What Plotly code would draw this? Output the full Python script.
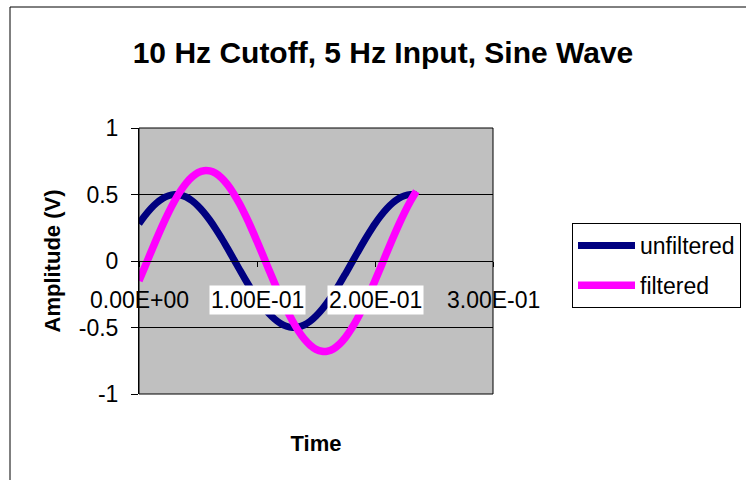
import plotly.graph_objects as go

# Sample times (s) and the two measured signals (V)
time_s = [0.000, 0.005, 0.010, 0.015, 0.020, 0.025, 0.030, 0.035, 0.040, 0.045,
          0.050, 0.055, 0.060, 0.065, 0.070, 0.075, 0.080, 0.085, 0.090, 0.095,
          0.100, 0.105, 0.110, 0.115, 0.120, 0.125, 0.130, 0.135, 0.140, 0.145,
          0.150, 0.155, 0.160, 0.165, 0.170, 0.175, 0.180, 0.185, 0.190, 0.195,
          0.200, 0.205, 0.210, 0.215, 0.220, 0.225, 0.230, 0.235]

unfiltered = [0.280, 0.341, 0.394, 0.437, 0.470, 0.491, 0.500, 0.496, 0.481, 0.453,
              0.414, 0.365, 0.307, 0.242, 0.171, 0.095, 0.017, -0.061, -0.138, -0.211,
              -0.280, -0.341, -0.394, -0.437, -0.470, -0.491, -0.500, -0.496, -0.481, -0.453,
              -0.414, -0.365, -0.307, -0.242, -0.171, -0.095, -0.017, 0.061, 0.138, 0.211,
              0.280, 0.341, 0.394, 0.437, 0.470, 0.491, 0.500, 0.496]

filtered = [-0.148, -0.043, 0.064, 0.169, 0.270, 0.364, 0.449, 0.524, 0.586, 0.632,
            0.664, 0.679, 0.677, 0.659, 0.624, 0.574, 0.510, 0.434, 0.346, 0.251,
            0.148, 0.043, -0.064, -0.169, -0.270, -0.364, -0.449, -0.524, -0.586, -0.632,
            -0.664, -0.679, -0.677, -0.659, -0.624, -0.574, -0.510, -0.434, -0.346, -0.251,
            -0.148, -0.043, 0.064, 0.169, 0.270, 0.364, 0.449, 0.524]

x_tick_vals = [0.0, 0.1, 0.2, 0.3]
x_tick_text = ["0.00E+00", "1.00E-01", "2.00E-01", "3.00E-01"]
x_tick_boxed = [False, True, True, False]
y_tick_vals = [-1, -0.5, 0, 0.5, 1]
y_tick_text = ["-1", "-0.5", "0", "0.5", "1"]

FONT = "Arial, Liberation Sans, sans-serif"

fig = go.Figure()
fig.add_trace(go.Scatter(x=time_s, y=unfiltered, mode="lines", name="unfiltered",
                         legendgroup="u",
                         line=dict(color="#000080", width=7, shape="spline", smoothing=1)))
fig.add_trace(go.Scatter(x=time_s, y=filtered, mode="lines", name="filtered",
                         legendgroup="f",
                         line=dict(color="#FF00FF", width=7.5, shape="spline", smoothing=1)))

W, H = 746, 480
L, R, T, B = 139, 253, 128, 86
pw, ph = W - L - R, H - T - B

def px_to_paper_x(px):
    return (px - L) / pw

def px_to_paper_y(py):
    return (H - B - py) / ph

# Tick labels along the zero line
annotations = []
for v, txt, boxed in zip(x_tick_vals, x_tick_text, x_tick_boxed):
    annotations.append(dict(
        x=v, y=0, xref="x", yref="y", text=txt, showarrow=False,
        xanchor="center", yanchor="middle", yshift=-39,
        font=dict(family=FONT, size=23, color="black"),
        bgcolor="white" if boxed else "rgba(0,0,0,0)", borderpad=1,
    ))

shapes = [
    # chart frame
    dict(type="rect", xref="paper", yref="paper",
         x0=px_to_paper_x(10), x1=px_to_paper_x(760),
         y0=px_to_paper_y(490), y1=px_to_paper_y(7),
         line=dict(color="black", width=1), fillcolor="rgba(0,0,0,0)", layer="below"),
    # plot area border
    dict(type="rect", xref="paper", yref="paper", x0=0, x1=1, y0=0, y1=1,
         line=dict(color="black", width=1), fillcolor="rgba(0,0,0,0)", layer="above"),
]

fig.update_layout(
    width=W, height=H,
    margin=dict(l=L, r=R, t=T, b=B, pad=0, autoexpand=False),
    paper_bgcolor="white",
    plot_bgcolor="#C0C0C0",
    font=dict(family=FONT, size=23, color="black"),
    title=dict(text="<b>10 Hz Cutoff, 5 Hz Input, Sine Wave</b>",
               x=383 / W, xref="container", xanchor="center",
               y=1 - 52 / H, yref="container", yanchor="middle",
               font=dict(family=FONT, size=30, color="black")),
    xaxis=dict(range=[0, 0.3], anchor="free", position=0.5,
               tickvals=x_tick_vals, showticklabels=False,
               ticks="outside", ticklen=5, tickcolor="black", tickwidth=1,
               showline=True, linecolor="black", linewidth=1,
               showgrid=False, zeroline=False, automargin=False,
               title=dict(text="<b>Time</b>", standoff=169,
                          font=dict(family=FONT, size=22, color="black"))),
    yaxis=dict(range=[-1, 1], tickvals=y_tick_vals, ticktext=y_tick_text,
               ticks="outside", ticklen=7, tickcolor="black", tickwidth=1,
               showline=True, linecolor="black", linewidth=1,
               showgrid=True, gridcolor="black", gridwidth=1,
               zeroline=True, zerolinecolor="black", zerolinewidth=1,
               ticklabelstandoff=8, automargin=False,
               tickfont=dict(family=FONT, size=23, color="black"),
               title=dict(text="<b>Amplitude (V)</b>", standoff=12,
                          font=dict(family=FONT, size=22, color="black"))),
    legend=dict(x=px_to_paper_x(572), y=px_to_paper_y(223),
                xanchor="left", yanchor="top",
                bgcolor="white", bordercolor="black", borderwidth=1,
                font=dict(family=FONT, size=23, color="black"),
                traceorder="grouped", itemwidth=57, tracegroupgap=7),
    annotations=annotations,
    shapes=shapes,
    showlegend=True,
)

fig.write_html("out.html")
